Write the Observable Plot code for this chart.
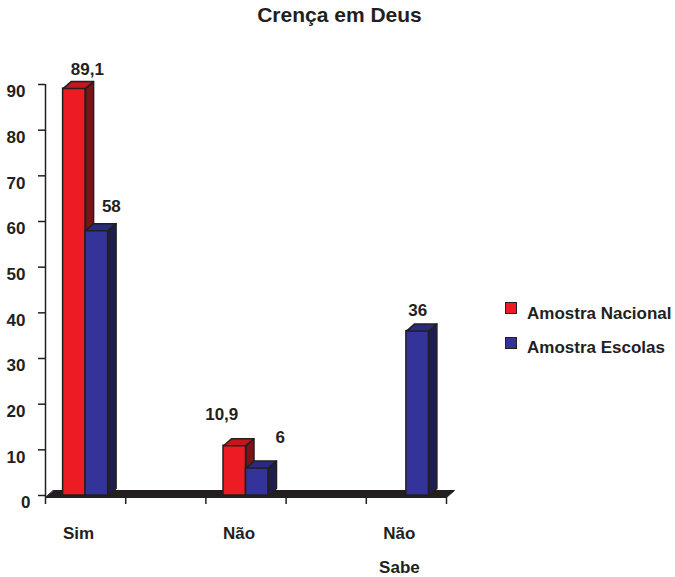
<!DOCTYPE html>
<html><head><meta charset="utf-8">
<script src="https://cdn.jsdelivr.net/npm/d3@7"></script>
<script src="https://cdn.jsdelivr.net/npm/@observablehq/plot@0.6"></script>
<style>
body{margin:0;background:#fff;font-family:"Liberation Sans",Arial,sans-serif;color:#231f20}
#wrap{position:relative;width:675px;height:577px;overflow:hidden}
#wrap svg{position:absolute;left:0;top:0}
#title{position:absolute;left:0;width:679px;top:4px;text-align:center;font-size:21px;line-height:21px;font-weight:bold}
.sw{position:absolute;left:505px;width:10px;height:10px;border:1.5px solid #231f20}
.lt{position:absolute;left:527px;font-size:17px;line-height:17px;font-weight:bold;white-space:nowrap}
</style>
</head><body>
<div id="wrap">
  <div id="title">Crença em Deus</div>
  <div class="sw" style="top:302px;background:#ed1c24"></div>
  <div class="lt" style="top:304.6px" id="l0"></div>
  <div class="sw" style="top:337px;background:#333399"></div>
  <div class="lt" style="top:338.6px" id="l1"></div>
</div>
<script>
// ---- data ----
const categories = ["Sim", "Não", "Não\nSabe"];
const nacional = [89.1, 10.9, null];
const escolas = [58, 6, 36];
const seriesNames = ["Amostra Nacional", "Amostra Escolas"];
const yTicks = [0, 10, 20, 30, 40, 50, 60, 70, 80, 90];
const xTicks = [0, 1, 2, 3, 4, 5];

// ---- styling / layout ----
const W = 675, H = 577, mL = 45, mR = 229, mT = 84, mB = 82;
const xMax = 5, yMax = 90;
const pxX = (W - mL - mR) / xMax, pxY = (H - mT - mB) / yMax;
const barW = 22.5 / pxX;
const depX = 8 / pxX, depY = 7 / pxY;
const ink = "#231f20";
const colors = [
  {front: "#ed1c24", top: "#c3161d", side: "#7a1416"},
  {front: "#333399", top: "#2a2a80", side: "#1d1d50"}
];
// per-label pixel offsets (from front-top centre of each bar)
const labelOffsets = [[[13, -19], [14.5, -24]], [[-13, -31], [23, -31]], [[0, 0], [0, -21]]];

document.getElementById("l0").textContent = seriesNames[0];
document.getElementById("l1").textContent = seriesNames[1];

const bars = [];
categories.forEach((c, i) => {
  const mid = 2 * i + 0.5;
  [nacional[i], escolas[i]].forEach((v, s) => {
    if (v == null) return;
    const x1 = s === 0 ? mid - barW : mid;
    bars.push({cat: c, s, v, x1, x2: x1 + barW, id: i + "-" + s,
      lx: x1 + barW / 2 + labelOffsets[i][s][0] / pxX,
      ly: v - labelOffsets[i][s][1] / pxY,
      label: String(v).replace(".", ",")});
  });
});
const topPts = s => bars.filter(b => b.s === s).flatMap(b => [
  {id: b.id, x: b.x1, y: b.v}, {id: b.id, x: b.x2, y: b.v},
  {id: b.id, x: b.x2 + depX, y: b.v + depY}, {id: b.id, x: b.x1 + depX, y: b.v + depY}]);
const sidePts = s => bars.filter(b => b.s === s).flatMap(b => [
  {id: b.id, x: b.x2, y: 0}, {id: b.id, x: b.x2, y: b.v},
  {id: b.id, x: b.x2 + depX, y: b.v + depY}, {id: b.id, x: b.x2 + depX, y: depY}]);
const fb = -2 / pxY;
const floor = [
  {x: 0, y: fb}, {x: xMax, y: fb}, {x: xMax + depX, y: fb + depY}, {x: depX, y: fb + depY}];

const marks = [
  Plot.line(floor, {x: "x", y: "y", curve: "linear-closed", fill: ink, stroke: ink, strokeWidth: 1}),
  Plot.ruleX([0], {y1: fb, y2: yMax, stroke: ink, strokeWidth: 1.5}),
  Plot.axisY({ticks: yTicks, tickSize: 7, tickFormat: () => "", label: null, stroke: ink, strokeWidth: 1.5}),
  Plot.text(yTicks.filter(d => d !== 0), {y: d => d, text: d => String(d), frameAnchor: "left", textAnchor: "end", dx: -20, dy: 7.5, fill: ink}),
  Plot.text(yTicks.filter(d => d === 0), {y: d => d, text: d => String(d), frameAnchor: "left", textAnchor: "end", dx: -15, dy: 7, fill: ink}),
  Plot.axisX({ticks: xTicks, tickSize: 7, tickFormat: () => "", label: null, dy: 2, stroke: ink, strokeWidth: 1.5}),
  Plot.text(categories, {x: (d, i) => 2 * i + 0.5, text: d => d, frameAnchor: "bottom", lineAnchor: "top", dy: 19, dx: -7, lineHeight: 2.0, fill: ink})
];
[0, 1].forEach(s => {
  marks.push(
    Plot.rect(bars.filter(b => b.s === s), {x1: "x1", x2: "x2", y1: 0, y2: "v", fill: colors[s].front, stroke: ink, strokeWidth: 1.5}),
    Plot.line(topPts(s), {x: "x", y: "y", z: "id", curve: "linear-closed", fill: colors[s].top, stroke: ink, strokeWidth: 1.5}),
    Plot.line(sidePts(s), {x: "x", y: "y", z: "id", curve: "linear-closed", fill: colors[s].side, stroke: ink, strokeWidth: 1.5})
  );
});
marks.push(Plot.text(bars, {x: "lx", y: "ly", text: "label", fill: ink}));

const chart = Plot.plot({
  width: W, height: H,
  marginLeft: mL, marginRight: mR, marginTop: mT, marginBottom: mB,
  x: {type: "linear", domain: [0, xMax], label: null},
  y: {type: "linear", domain: [0, yMax], label: null},
  style: {fontFamily: "'Liberation Sans', Arial, sans-serif", fontSize: "17px", fontWeight: "bold", color: ink, background: "transparent", overflow: "visible"},
  marks
});
document.getElementById("wrap").appendChild(chart);
</script>
</body></html>
